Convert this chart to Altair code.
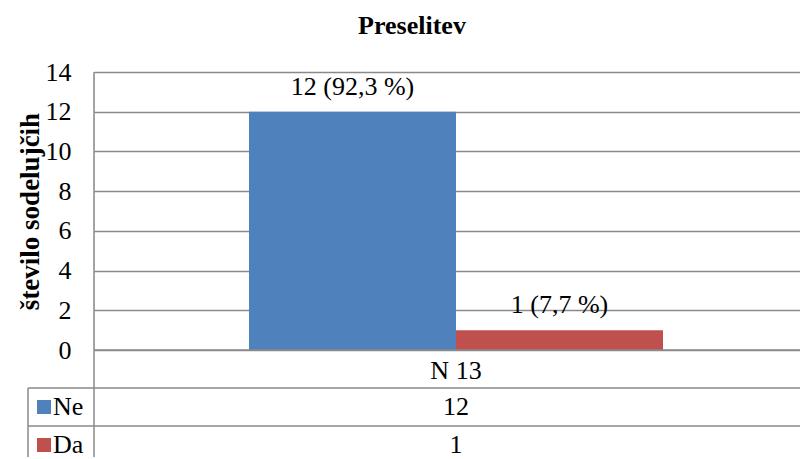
import altair as alt
import pandas as pd

# ---- data ----
category = ["N 13"]
series = ["Ne", "Da"]
values = [12, 1]
bar_labels = ["12 (92,3 %)", "1 (7,7 %)"]
y_ticks = [0, 2, 4, 6, 8, 10, 12, 14]
colors = ["#4F81BD", "#C0504D"]

df = pd.DataFrame({
    "cat": category * len(series),
    "series": series,
    "value": values,
    "label": bar_labels,
})

FONT = "'Liberation Serif', 'Times New Roman', Times, serif"
GRID = "#8a8a8a"
W, H = 706, 278
ROW = 38
FS = 26

xscale = alt.Scale(domain=category, range=[0, 724], paddingOuter=0.3744, paddingInner=0)
xaxis = alt.Axis(title=None, domain=False, ticks=False, labelFont=FONT, labelFontSize=FS,
                 labelColor="black", labelPadding=7, labelAngle=0)
xoff = alt.XOffset("series:N", scale=alt.Scale(domain=series, paddingInner=0, paddingOuter=0))
cscale = alt.Scale(domain=series, range=colors)
yscale = alt.Scale(domain=[0, 14], nice=False)
tscale = alt.Scale(domain=series, range=[H + ROW, H + 3 * ROW], paddingInner=0, paddingOuter=0)

base = alt.Chart(df)

bars = base.mark_bar().encode(
    x=alt.X("cat:N", scale=xscale, axis=xaxis),
    xOffset=xoff,
    y=alt.Y("value:Q", scale=yscale,
            axis=alt.Axis(values=y_ticks, grid=True, gridColor=GRID, gridWidth=1.5,
                          domain=False, ticks=False, labelFont=FONT, labelFontSize=FS,
                          labelColor="black", labelPadding=23,
                          title="število sodelujčih", titleFont=FONT, titleFontSize=FS + 1,
                          titleFontWeight="bold", titleColor="black", titleX=-56,
                          titleY=H / 2, titleAngle=-90, titleAlign="center",
                          titleBaseline="alphabetic")),
    color=alt.Color("series:N", scale=cscale, legend=None),
)

labels = base.mark_text(font=FONT, fontSize=FS, color="black", baseline="alphabetic", dy=-17).encode(
    x=alt.X("cat:N", scale=xscale),
    xOffset=xoff,
    y=alt.Y("value:Q", scale=yscale, axis=None),
    text="label:N",
)

table_vals = base.mark_text(font=FONT, fontSize=FS, color="black", baseline="middle").encode(
    x=alt.X("cat:N", scale=xscale),
    y=alt.Y("series:N", scale=tscale, axis=None),
    text="value:Q",
)

legend_txt = base.mark_text(font=FONT, fontSize=FS, color="black", baseline="middle", align="left").encode(
    x=alt.value(-41),
    y=alt.Y("series:N", scale=tscale, axis=None),
    text="series:N",
)

legend_sq = base.mark_square(size=196, opacity=1, filled=True).encode(
    x=alt.value(-50),
    y=alt.Y("series:N", scale=tscale, axis=None),
    color=alt.Color("series:N", scale=cscale, legend=None),
)

one = alt.Data(values=[{}])
rule = dict(color=GRID, strokeWidth=1.5)
lines = [
    alt.Chart(one).mark_rule(**rule).encode(x=alt.value(0), x2=alt.value(W), y=alt.value(H)),
    alt.Chart(one).mark_rule(**rule).encode(x=alt.value(-66), x2=alt.value(W), y=alt.value(H + ROW)),
    alt.Chart(one).mark_rule(**rule).encode(x=alt.value(-66), x2=alt.value(W), y=alt.value(H + 2 * ROW)),
    alt.Chart(one).mark_rule(**rule).encode(x=alt.value(0), y=alt.value(0), y2=alt.value(H + 3 * ROW)),
    alt.Chart(one).mark_rule(**rule).encode(x=alt.value(-66), y=alt.value(H + ROW), y2=alt.value(H + 3 * ROW)),
]

chart = alt.layer(bars, labels, *lines, table_vals, legend_sq, legend_txt).resolve_scale(
    y="independent"
).properties(
    width=W,
    height=H,
    autosize=alt.AutoSizeParams(type="none"),
    padding={"left": 86, "top": 64, "right": 0, "bottom": 107},
    title=alt.TitleParams("Preselitev", font=FONT, fontSize=FS, fontWeight="bold", color="black",
                          anchor="middle", dx=-35, offset=20),
).configure_view(stroke=None).configure(background="white")

chart.save("out.html", embed_options={"renderer": "svg", "actions": False})
